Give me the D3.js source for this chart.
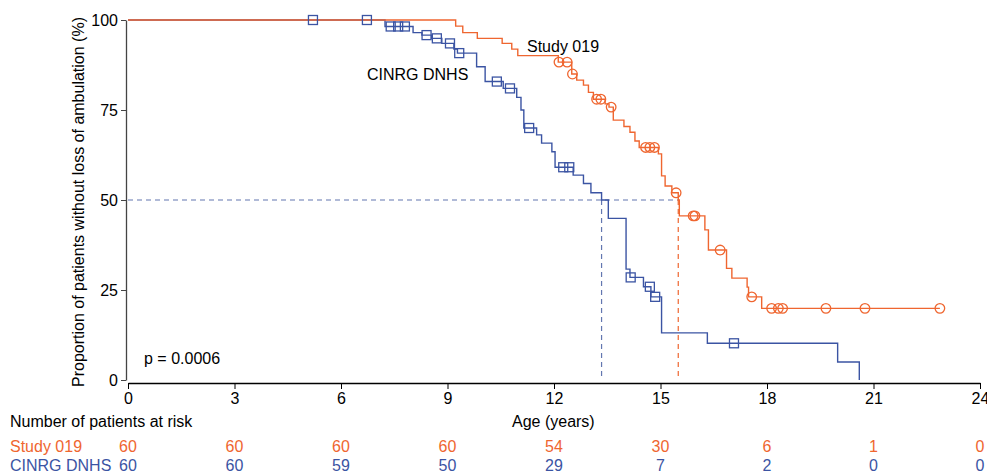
<!DOCTYPE html>
<html>
<head>
<meta charset="utf-8">
<script src="https://cdn.jsdelivr.net/npm/d3@7"></script>
<style>
  html, body { margin: 0; padding: 0; background: #fff; }
  svg { display: block; font-family: "Liberation Sans", Arial, Helvetica, sans-serif; }
</style>
</head>
<body>
<svg id="chart" width="987" height="474"></svg>
<script>
// Kaplan–Meier estimates of time to loss of ambulation, by cohort.
const groups = ["Study 019", "CINRG DNHS"];
const ageTicks = [0, 3, 6, 9, 12, 15, 18, 21, 24];
const pctTicks = [0, 25, 50, 75, 100];

// Survival steps: [age (years), % without loss of ambulation]
const study019Steps = [
  [0, 100], [9.23, 98.3], [9.43, 96.5], [9.84, 94.9], [10.54, 93.5], [10.81, 91.9],
  [10.98, 90.1], [12.12, 88.3], [12.50, 85.0], [12.64, 83.3], [12.83, 81.9],
  [12.97, 79.9], [13.11, 78.0], [13.44, 76.7], [13.55, 75.8], [13.67, 72.2],
  [13.97, 70.4], [14.14, 68.8], [14.28, 66.4], [14.40, 64.6], [14.94, 62.8],
  [15.03, 56.7], [15.13, 53.9], [15.32, 52.0], [15.50, 50.0], [15.53, 45.6],
  [16.25, 41.7], [16.35, 36.1], [16.86, 31.0], [17.01, 28.3], [17.44, 25.8],
  [17.48, 23.1], [17.85, 19.9], [22.87, 19.9]
];
const cinrgSteps = [
  [0, 100], [7.24, 98.2], [8.03, 96.5], [8.28, 95.8], [8.55, 94.9], [8.84, 93.5],
  [9.18, 91.9], [9.28, 90.8], [9.82, 87.0], [10.06, 82.9], [10.57, 81.0],
  [10.95, 78.5], [11.07, 75.0], [11.15, 70.0], [11.51, 68.1], [11.65, 65.8],
  [11.94, 63.4], [12.03, 59.1], [12.54, 56.9], [12.83, 54.6], [13.04, 52.0],
  [13.34, 50.0], [13.53, 44.9], [14.03, 30.8], [14.14, 28.5], [14.52, 25.9],
  [14.73, 23.1], [15.03, 13.1], [16.32, 10.2], [19.99, 5.0], [20.60, 0]
];

// Censored observations: [age, %]
const study019Censored = [
  [12.14, 88.3], [12.37, 88.3], [12.52, 85.0], [13.20, 78.0], [13.32, 78.0],
  [13.61, 75.8], [14.58, 64.6], [14.70, 64.6], [14.83, 64.6], [15.44, 52.0],
  [15.92, 45.6], [15.97, 45.6], [16.68, 36.1], [17.57, 23.1], [18.13, 19.9],
  [18.32, 19.9], [18.44, 19.9], [19.66, 19.9], [20.76, 19.9], [22.87, 19.9]
];
const cinrgCensored = [
  [5.21, 100], [6.73, 100], [7.40, 98.2], [7.61, 98.2], [7.80, 98.2],
  [8.41, 95.8], [8.70, 94.9], [9.07, 93.5], [9.33, 90.8], [10.39, 82.9],
  [10.76, 81.0], [11.30, 70.0], [12.26, 59.1], [12.43, 59.1], [14.16, 28.5],
  [14.70, 25.9], [14.85, 23.1], [17.07, 10.2]
];

// Median ages (years) at 50%
const study019Median = 15.50;
const cinrgMedian = 13.34;

// Number at risk at each age tick
const study019AtRisk = [60, 60, 60, 60, 54, 30, 6, 1, 0];
const cinrgAtRisk = [60, 60, 59, 50, 29, 7, 2, 0, 0];

const pValueText = "p = 0.0006";

const ORANGE = "#ef6630";
const BLUE = "#3b54a3";

const svg = d3.select("#chart");

const x = d3.scaleLinear().domain([0, 24]).range([128, 980]);
const y = d3.scaleLinear().domain([0, 100]).range([380, 20]);

// Axes
const yAxis = svg.append("g")
  .attr("transform", "translate(126,0)")
  .call(d3.axisLeft(y).tickValues(pctTicks).tickSize(5).tickSizeOuter(0).tickPadding(3));
yAxis.selectAll("text").attr("font-size", 16).attr("fill", "#000").attr("font-family", "Liberation Sans, Arial, sans-serif");
yAxis.select(".domain").attr("stroke", "#444").attr("stroke-width", 1.3);
yAxis.selectAll(".tick line").attr("stroke", "#444");

const xAxis = svg.append("g")
  .attr("transform", "translate(0,383)")
  .call(d3.axisBottom(x).tickValues(ageTicks).tickSize(6).tickSizeOuter(0).tickPadding(4));
xAxis.selectAll("text").attr("font-size", 16).attr("fill", "#000").attr("font-family", "Liberation Sans, Arial, sans-serif");
xAxis.select(".domain").attr("stroke", "#000").attr("stroke-width", 1.3);
xAxis.selectAll(".tick line").attr("stroke", "#000");

// Y axis title
svg.append("text")
  .attr("transform", `translate(84,${(y(0) + y(100)) / 2 + 2}) rotate(-90)`)
  .attr("text-anchor", "middle")
  .attr("font-size", 16)
  .text("Proportion of patients without loss of ambulation (%)");

// Median reference lines
const plot = svg.append("g");
plot.append("line")
  .attr("x1", x(0)).attr("x2", x(study019Median))
  .attr("y1", y(50)).attr("y2", y(50))
  .attr("stroke", "#6377b0").attr("stroke-width", 1.2).attr("stroke-dasharray", "5,4");
plot.append("line")
  .attr("x1", x(cinrgMedian)).attr("x2", x(cinrgMedian))
  .attr("y1", y(50)).attr("y2", y(0))
  .attr("stroke", "#6377b0").attr("stroke-width", 1.2).attr("stroke-dasharray", "5,4");
plot.append("line")
  .attr("x1", x(study019Median)).attr("x2", x(study019Median))
  .attr("y1", y(50)).attr("y2", y(0))
  .attr("stroke", ORANGE).attr("stroke-width", 1.2).attr("stroke-dasharray", "5,4");

// Survival curves
const stepLine = d3.line()
  .x(d => x(d[0]))
  .y(d => y(d[1]))
  .curve(d3.curveStepAfter);

plot.append("path")
  .datum(cinrgSteps)
  .attr("fill", "none").attr("stroke", BLUE).attr("stroke-width", 1.4)
  .attr("d", stepLine);
plot.append("path")
  .datum(study019Steps)
  .attr("fill", "none").attr("stroke", ORANGE).attr("stroke-width", 1.4)
  .attr("d", stepLine);

// Censor marks
const sq = 9;
plot.selectAll("rect.cens")
  .data(cinrgCensored)
  .join("rect")
  .attr("class", "cens")
  .attr("x", d => x(d[0]) - sq / 2)
  .attr("y", d => y(d[1]) - sq / 2)
  .attr("width", sq).attr("height", sq)
  .attr("fill", "none").attr("stroke", BLUE).attr("stroke-width", 1.3);

plot.selectAll("circle.cens")
  .data(study019Censored)
  .join("circle")
  .attr("class", "cens")
  .attr("cx", d => x(d[0]))
  .attr("cy", d => y(d[1]))
  .attr("r", 4.8)
  .attr("fill", "none").attr("stroke", ORANGE).attr("stroke-width", 1.3);

// Curve labels
svg.append("text").attr("x", 527).attr("y", 52).attr("font-size", 16).text(groups[0]);
svg.append("text").attr("x", 367).attr("y", 80).attr("font-size", 16).text(groups[1]);

// p-value
svg.append("text").attr("x", 144).attr("y", 364).attr("font-size", 16).text(pValueText);

// Risk table
svg.append("text").attr("x", 10).attr("y", 427).attr("font-size", 16).text("Number of patients at risk");
svg.append("text").attr("x", x(12) - 42).attr("y", 427).attr("font-size", 16).text("Age (years)");

const rows = [
  { name: groups[0], counts: study019AtRisk, color: ORANGE, yPos: 452 },
  { name: groups[1], counts: cinrgAtRisk, color: BLUE, yPos: 471 }
];
rows.forEach(r => {
  svg.append("text").attr("x", 10).attr("y", r.yPos).attr("font-size", 16)
    .attr("fill", r.color).text(r.name);
  svg.append("g").selectAll("text")
    .data(r.counts)
    .join("text")
    .attr("x", (d, i) => x(ageTicks[i]))
    .attr("y", r.yPos)
    .attr("text-anchor", "middle")
    .attr("font-size", 16)
    .attr("fill", r.color)
    .text(d => d);
});
</script>
</body>
</html>
